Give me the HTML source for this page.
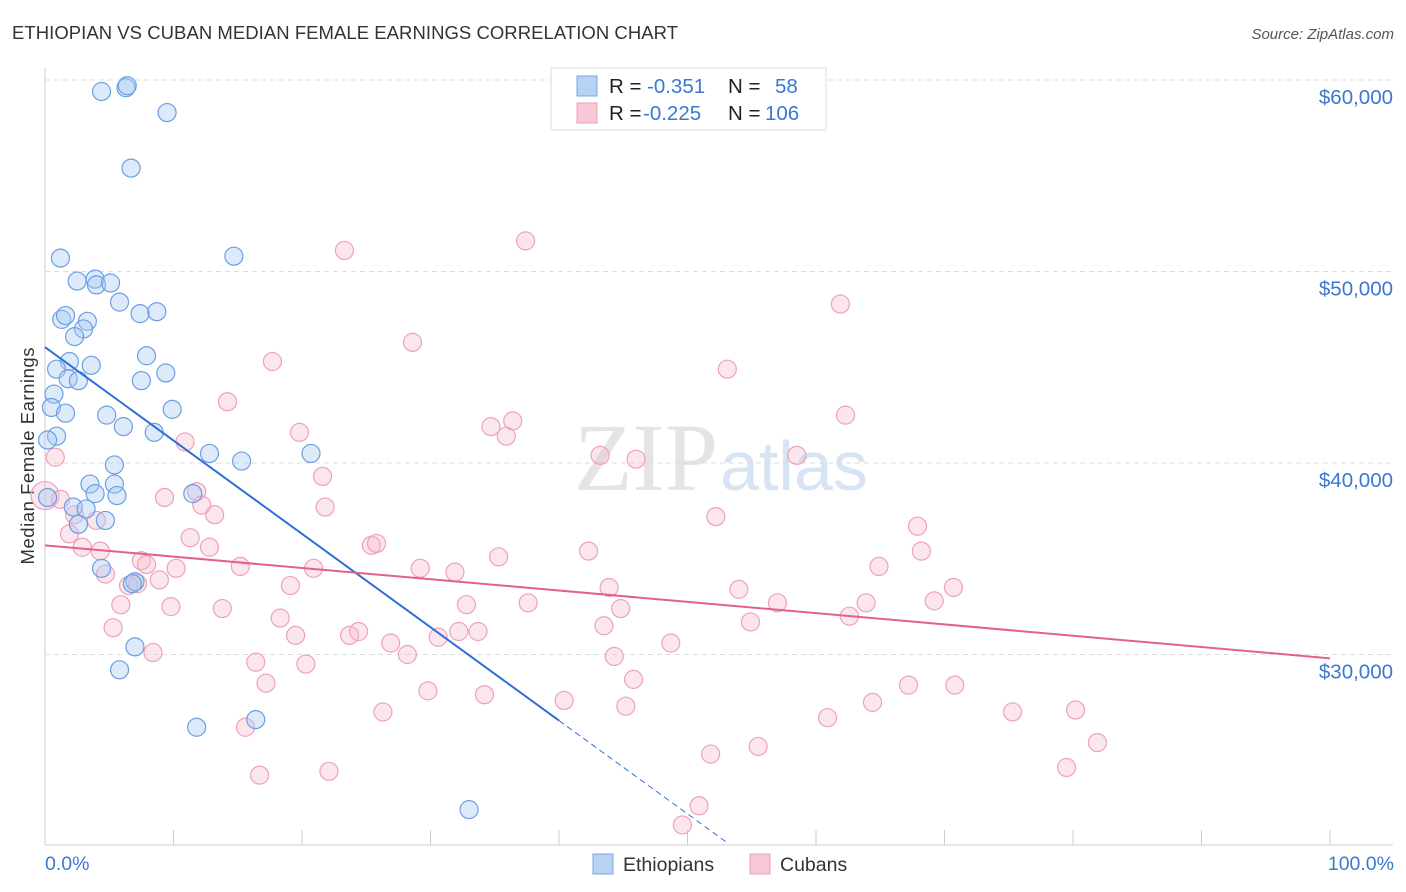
<!DOCTYPE html>
<html><head><meta charset="utf-8"><style>
body{margin:0;background:#fff;font-family:"Liberation Sans",sans-serif;}
svg{display:block}
</style></head><body>
<svg id="c" width="1406" height="892">
<text x="12" y="39" font-size="18.5" fill="#333" textLength="666">ETHIOPIAN VS CUBAN MEDIAN FEMALE EARNINGS CORRELATION CHART</text>
<text x="1394" y="39" font-size="15" fill="#555" font-style="italic" text-anchor="end">Source: ZipAtlas.com</text>
<text x="718" y="490" font-size="96" fill="#e4e4e4" text-anchor="end" font-family="Liberation Serif">ZIP</text>
<text x="720" y="490" font-size="70" fill="#d6e4f4">atlas</text>
<text transform="translate(34,456) rotate(-90)" font-size="18.5" fill="#333" text-anchor="middle" textLength="217">Median Female Earnings</text>
<g id="grid"></g><g id="pts"></g><g id="trend"></g>
<g>
<rect x="551" y="68" width="275" height="62" fill="#fff" stroke="#ddd"/>
<rect x="577" y="76" width="20" height="20" fill="#b8d2f4" stroke="#7aa6e0"/>
<rect x="577" y="103" width="20" height="20" fill="#f9c8d6" stroke="#eea0b8"/>
<text x="609" y="93" font-size="20.5" fill="#222">R = <tspan fill="#3c78d0" x="647">-0.351</tspan><tspan fill="#222" x="728">N =</tspan><tspan fill="#3c78d0" x="775">58</tspan></text>
<text x="609" y="120" font-size="20.5" fill="#222">R = <tspan fill="#3c78d0" x="643">-0.225</tspan><tspan fill="#222" x="728">N =</tspan><tspan fill="#3c78d0" x="765">106</tspan></text>
</g>
<g>
<rect x="593" y="854" width="20" height="20" fill="#b8d2f4" stroke="#7aa6e0"/>
<text x="623" y="871" font-size="19.5" fill="#333">Ethiopians</text>
<rect x="750" y="854" width="20" height="20" fill="#f9c8d6" stroke="#eea0b8"/>
<text x="780" y="871" font-size="19.5" fill="#333">Cubans</text>
</g>
<text x="45" y="870" font-size="19.5" fill="#3c78d0">0.0%</text>
<text x="1394" y="870" font-size="19.5" fill="#3c78d0" text-anchor="end">100.0%</text>
</svg>
<script>
const yTicks=[60,50,40,30];
const yTickLabels=["$60,000","$50,000","$40,000","$30,000"];
const xTicks=[0,10,20,30,40,50,60,70,80,90,100];
const ethX=[4.4,6.3,6.4,9.5,6.7,1.2,14.7,2.5,3.9,4.0,5.1,5.8,7.4,8.7,1.3,1.6,3.3,3.0,2.3,7.9,1.9,0.9,3.6,1.8,2.6,7.5,9.4,0.7,0.5,1.6,4.8,9.9,6.1,8.5,0.9,0.2,12.8,20.7,15.3,5.4,3.5,5.4,3.9,5.6,11.5,0.2,2.2,3.2,2.6,4.7,4.4,7.0,6.8,7.0,5.8,11.8,16.4,33.0];
const ethY=[59.4,59.6,59.7,58.3,55.4,50.7,50.8,49.5,49.6,49.3,49.4,48.4,47.8,47.9,47.5,47.7,47.4,47.0,46.6,45.6,45.3,44.9,45.1,44.4,44.3,44.3,44.7,43.6,42.9,42.6,42.5,42.8,41.9,41.6,41.4,41.2,40.5,40.5,40.1,39.9,38.9,38.9,38.4,38.3,38.4,38.2,37.7,37.6,36.8,37.0,34.5,33.8,33.7,30.4,29.2,26.2,26.6,21.9];
const cubX=[0,0.8,1.2,1.9,2.3,4.0,2.9,4.3,4.7,5.9,5.3,6.5,7.2,7.5,7.9,8.9,9.3,10.2,9.8,8.4,10.9,11.3,11.8,12.2,12.8,13.2,13.8,14.2,15.2,15.6,16.4,16.7,17.2,17.7,18.3,19.1,19.5,19.8,20.3,20.9,21.6,21.8,22.1,23.3,23.7,24.4,25.4,25.8,26.3,26.9,28.2,28.6,29.2,29.8,30.6,31.9,32.2,32.8,33.7,34.2,34.7,35.3,35.9,36.4,37.4,37.6,40.4,42.3,43.2,43.5,43.9,44.3,44.8,45.2,45.8,46.0,48.7,49.6,50.9,51.8,52.2,53.1,54.0,54.9,55.5,57.0,58.5,60.9,61.9,62.3,62.6,63.9,64.4,64.9,67.2,67.9,68.2,69.2,70.7,70.8,75.3,79.5,80.2,81.9];
const cubY=[38.3,40.3,38.1,36.3,37.3,37.0,35.6,35.4,34.2,32.6,31.4,33.6,33.7,34.9,34.7,33.9,38.2,34.5,32.5,30.1,41.1,36.1,38.5,37.8,35.6,37.3,32.4,43.2,34.6,26.2,29.6,23.7,28.5,45.3,31.9,33.6,31.0,41.6,29.5,34.5,39.3,37.7,23.9,51.1,31.0,31.2,35.7,35.8,27.0,30.6,30.0,46.3,34.5,28.1,30.9,34.3,31.2,32.6,31.2,27.9,41.9,35.1,41.4,42.2,51.6,32.7,27.6,35.4,40.4,31.5,33.5,29.9,32.4,27.3,28.7,40.2,30.6,21.1,22.1,24.8,37.2,44.9,33.4,31.7,25.2,32.7,40.4,26.7,48.3,42.5,32.0,32.7,27.5,34.6,28.4,36.7,35.4,32.8,33.5,28.4,27.0,24.1,27.1,25.4];
const ethTrend=[46.05,-0.4875]; // intercept, slope (per %)
const ethSolidEnd=40, ethDashEnd=53.1;
const cubTrend=[35.7,-0.059];
const NS="http://www.w3.org/2000/svg";
const sx=v=>45+v*12.85, sy=v=>80+(60-v)*19.15;
function mk(t,a,p){const e=document.createElementNS(NS,t);for(const k in a)e.setAttribute(k,a[k]);p.appendChild(e);return e;}
const g=document.getElementById('grid');
let ax=mk('line',{x1:45,y1:68,x2:45,y2:845,stroke:'#ccc'},g);


let bx=mk('line',{x1:45,y1:845,x2:1393,y2:845,stroke:'#ccc'},g);


yTicks.forEach((v,i)=>{
 const l=mk('line',{x1:45,x2:1393,y1:sy(v),y2:sy(v),stroke:'#ddd','stroke-dasharray':'5,4'},g);
 
 
 const t=mk('text',{x:1393,y:sy(v)+24,'font-size':20.5,fill:'#3c78d0','text-anchor':'end'},g);
 t.textContent=yTickLabels[i];
 
 
});
xTicks.forEach(v=>{
 const l=mk('line',{x1:sx(v),x2:sx(v),y1:830,y2:845,stroke:'#ccc'},g);
 
 
});
const p=document.getElementById('pts');
cubX.forEach((x,i)=>{
 const c=mk('circle',{cx:sx(x),cy:sy(cubY[i]),r:i==0?14:9,fill:'rgba(246,182,202,0.35)',stroke:'#eea2ba','stroke-width':1.2},p);
 
 
});
ethX.forEach((x,i)=>{
 const c=mk('circle',{cx:sx(x),cy:sy(ethY[i]),r:9,fill:'rgba(170,202,242,0.4)',stroke:'#6c9ee2','stroke-width':1.2},p);
 
 
});
const tr=document.getElementById('trend');
const ef=x=>ethTrend[0]+ethTrend[1]*x, cf=x=>cubTrend[0]+cubTrend[1]*x;
let l1=mk('line',{x1:sx(0),y1:sy(ef(0)),x2:sx(ethSolidEnd),y2:sy(ef(ethSolidEnd)),stroke:'#2f6fd6','stroke-width':2},tr);


let l2=mk('line',{x1:sx(ethSolidEnd),y1:sy(ef(ethSolidEnd)),x2:sx(ethDashEnd),y2:sy(ef(ethDashEnd)),stroke:'#2f6fd6','stroke-width':1,'stroke-dasharray':'6,4'},tr);


let l3=mk('line',{x1:sx(0),y1:sy(cf(0)),x2:sx(100),y2:sy(cf(100)),stroke:'#e4608c','stroke-width':2},tr);


</script>
</body></html>
